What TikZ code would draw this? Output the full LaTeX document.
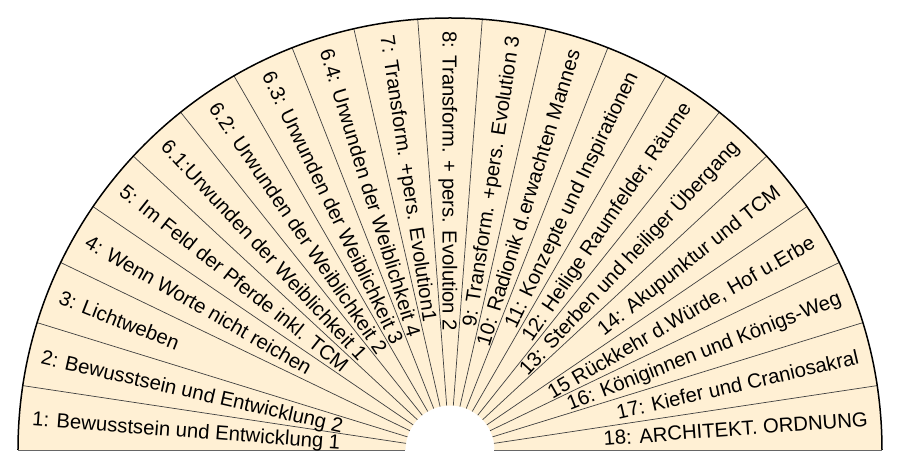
\documentclass[tikz,border=0pt]{standalone}
\usepackage{fontspec}
\setmainfont{Liberation Sans}
\definecolor{fanfill}{HTML}{FFF0D4}

\begin{document}
\begin{tikzpicture}
		\tikzstyle{spoke} = [draw=black!75, line width=0.7pt]
		\tikzstyle{rim} = [draw=black, line width=1.5pt]
		\tikzstyle{base} = [draw=black!60, line width=0.9pt]
		\tikzstyle{lleft} = [font=\fontsize{20.3pt}{24pt}\selectfont, inner sep=0pt, text height=14.6pt, text depth=0pt, anchor=west]
		\tikzstyle{lright} = [font=\fontsize{20.3pt}{24pt}\selectfont, inner sep=0pt, text height=14.6pt, text depth=0pt, anchor=east]
		\useasboundingbox (-450pt,-7pt) rectangle (450pt,450pt);
		\fill[fanfill] (-432pt,0) arc (180:0:432pt) -- (44.5pt,0) arc (0:180:44.5pt) -- cycle;
		\foreach \k in {1,...,20}
			\draw[spoke] ({\k*180/21}:44.5pt) -- ({\k*180/21}:432pt);
		\draw[rim] (-432pt,0) arc (180:0:432pt);
		\draw[base] (-432pt,0) -- (-44.5pt,0);
		\draw[base] (44.5pt,0) -- (432pt,0);

		\node [lleft, rotate=-4.286] (bew1) at (175.714:419pt) {1: Bewusstsein und Entwicklung 1};
		\node [lleft, rotate=-12.857] (bew2) at (167.143:419pt) {2: Bewusstsein und Entwicklung 2};
		\node [lleft, rotate=-21.429] (licht) at (158.571:419pt) {3: Lichtweben};
		\node [lleft, rotate=-30] (worte) at (150:419pt) {4: Wenn Worte nicht reichen};
		\node [lleft, rotate=-38.571] (pferde) at (141.429:419pt) {5: Im Feld der Pferde inkl. TCM};
		\node [lleft, rotate=-47.143] (urw1) at (132.857:419pt) {6.1:Urwunden der Weiblichkeit 1};
		\node [lleft, rotate=-55.714] (urw2) at (124.286:419pt) {6.2: Urwunden der Weiblichkeit 2};
		\node [lleft, rotate=-64.286] (urw3) at (115.714:419pt) {6.3: Urwunden der Weiblichkeit 3};
		\node [lleft, rotate=-72.857] (urw4) at (107.143:419pt) {6.4: Urwunden der Weiblichkeit 4};
		\node [lleft, rotate=-81.429] (trans1) at (98.571:419pt) {7: Transform. +pers. Evolution1};
		\node [lleft, rotate=-90] (trans2) at (90:419pt) {8: Transform. + pers. Evolution 2};
		\node [lright, rotate=81.429] (trans3) at (81.429:419pt) {9: Transform. +pers. Evolution 3};
		\node [lright, rotate=72.857] (radionik) at (72.857:419pt) {10: Radionik d.erwachten Mannes};
		\node [lright, rotate=64.286] (konzepte) at (64.286:419pt) {11: Konzepte und Inspirationen};
		\node [lright, rotate=55.714] (raum) at (55.714:419pt) {12: Heilige Raumfelder, Räume};
		\node [lright, rotate=47.143] (sterben) at (47.143:419pt) {13: Sterben und heiliger Übergang};
		\node [lright, rotate=38.571] (akup) at (38.571:419pt) {14: Akupunktur und TCM};
		\node [lright, rotate=30] (wuerde) at (30:419pt) {15 Rückkehr d.Würde, Hof u.Erbe};
		\node [lright, rotate=21.429] (koenig) at (21.429:419pt) {16: Königinnen und Königs-Weg};
		\node [lright, rotate=12.857] (kiefer) at (12.857:419pt) {17: Kiefer und Craniosakral};
		\node [lright, rotate=4.286] (archi) at (4.286:419pt) {18: ARCHITEKT. ORDNUNG};
	\end{tikzpicture}
\end{document}
